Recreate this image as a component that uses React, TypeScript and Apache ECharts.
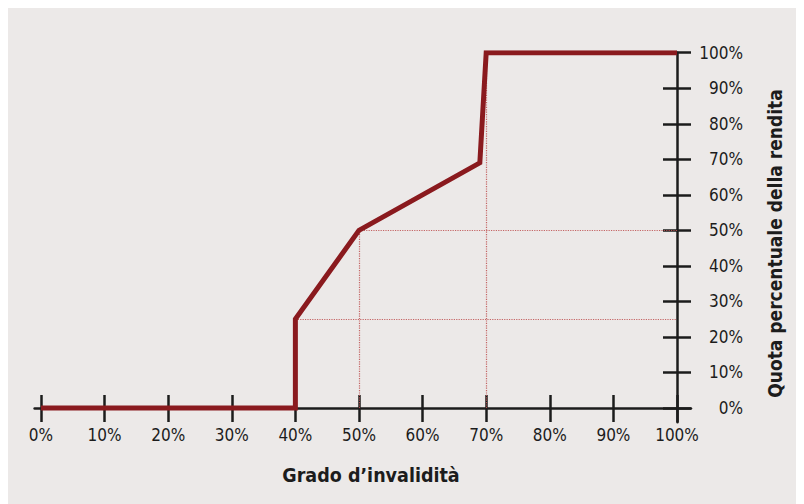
import React, { useEffect, useRef } from "react";
import * as echarts from "echarts";

const tickValues = [0, 10, 20, 30, 40, 50, 60, 70, 80, 90, 100];
const degree = [0, 40, 40, 50, 69, 70, 100];
const pensionShare = [0, 0, 25, 50, 69, 100, 100];
const refSegments: [number, number, number, number][] = [
  [40, 25, 100, 25],
  [50, 50, 100, 50],
  [50, 0, 50, 50],
  [70, 0, 70, 100],
];
const xTitle = "Grado d’invalidità";
const yTitle = "Quota percentuale della rendita";

const FONT = "'DejaVu Sans Condensed', 'Liberation Sans Narrow', 'Roboto', sans-serif";
const INK = "#1c1c1c";
const RED = "#8a1a1e";

export default function App() {
  const ref = useRef<HTMLDivElement>(null);
  useEffect(() => {
    if (!ref.current) return;
    const chart = echarts.init(ref.current, undefined, { renderer: "svg" });
    const xBase = {
      type: "value" as const,
      min: -1,
      max: 102.2,
      position: "bottom" as const,
      offset: -14.2,
      splitLine: { show: false },
      axisLine: { onZero: false },
    };
    const yBase = {
      type: "value" as const,
      min: -4,
      max: 100,
      position: "right" as const,
      offset: -14,
      splitLine: { show: false },
      axisLine: { onZero: false },
    };
    chart.setOption({
      animation: false,
      backgroundColor: "#ece9e8",
      grid: { left: 26.6, right: 113, top: 44.7, bottom: 81.8 },
      xAxis: [
        {
          ...xBase,
          axisLine: { show: true, onZero: false, lineStyle: { color: INK, width: 2.5 } },
          axisTick: { show: true, inside: false, length: 14, customValues: tickValues, lineStyle: { color: INK, width: 2.5 } },
          axisLabel: {
            show: true,
            customValues: tickValues,
            margin: 18,
            formatter: (v: number) => v + "%",
            fontFamily: FONT,
            fontSize: 17,
            color: INK,
          },
        },
        {
          ...xBase,
          axisLine: { show: false, onZero: false },
          axisTick: { show: true, inside: true, length: 13, customValues: tickValues, lineStyle: { color: INK, width: 2.5 } },
          axisLabel: { show: false },
        },
      ],
      yAxis: [
        {
          ...yBase,
          axisLine: { show: true, onZero: false, lineStyle: { color: INK, width: 2.5 } },
          axisTick: { show: true, inside: false, length: 14, customValues: tickValues, lineStyle: { color: INK, width: 2.5 } },
          axisLabel: {
            show: true,
            customValues: tickValues,
            margin: 66,
            align: "right",
            formatter: (v: number) => v + "%",
            fontFamily: FONT,
            fontSize: 17,
            color: INK,
          },
        },
        {
          ...yBase,
          axisLine: { show: false, onZero: false },
          axisTick: { show: true, inside: true, length: 14, customValues: tickValues, lineStyle: { color: INK, width: 2.5 } },
          axisLabel: { show: false },
        },
      ],
      graphic: [
        {
          type: "text",
          x: 363,
          y: 467,
          style: {
            text: xTitle,
            font: `bold 19.5px ${FONT}`,
            fill: INK,
            align: "center",
            verticalAlign: "middle",
          },
        },
        {
          type: "text",
          x: 767,
          y: 235.5,
          rotation: Math.PI / 2,
          style: {
            text: yTitle,
            font: `bold 19px ${FONT}`,
            fill: INK,
            align: "center",
            verticalAlign: "middle",
          },
        },
      ],
      series: [
        {
          type: "line",
          xAxisIndex: 0,
          yAxisIndex: 0,
          data: degree.map((d, i) => [d, pensionShare[i]]),
          showSymbol: false,
          symbol: "none",
          lineStyle: { color: RED, width: 5, join: "miter" },
          z: 3,
          markLine: {
            silent: true,
            symbol: "none",
            label: { show: false },
            lineStyle: { type: "dotted", color: "#c05555", width: 1.2, opacity: 0.9 },
            data: refSegments.map(([x1, y1, x2, y2]) => [{ coord: [x1, y1] }, { coord: [x2, y2] }]),
            z: 1,
          },
        },
      ],
    });
    return () => chart.dispose();
  }, []);
  return <div ref={ref} style={{ width: 796, height: 496 }} />;
}
